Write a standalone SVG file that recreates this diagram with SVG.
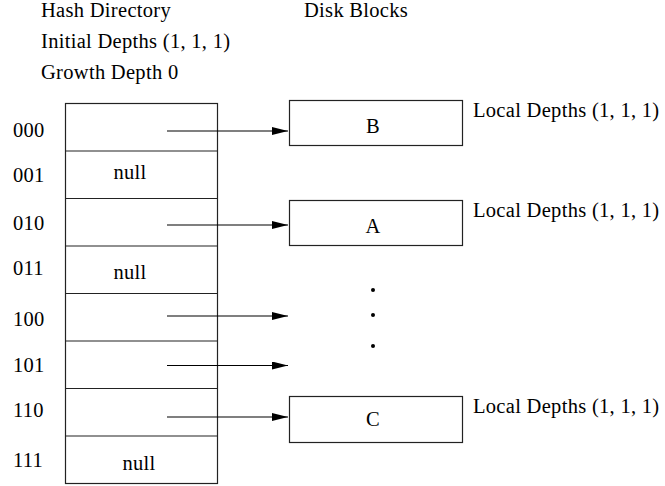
<svg xmlns="http://www.w3.org/2000/svg" width="665" height="486" viewBox="0 0 665 486">
  <style>
    text { font-family: "Liberation Serif", "Times New Roman", serif; font-size: 20.5px; letter-spacing: 0.3px; fill: #000; }
    .mid { text-anchor: middle; }
    .box { fill: #fff; stroke: #222; stroke-width: 1.2; }
    .sep { stroke: #222; stroke-width: 1.2; }
    .link { stroke: #000; stroke-width: 1.2; fill: none; marker-end: url(#head); }
  </style>
  <defs>
    <marker id="head" viewBox="0 0 16 8" refX="16" refY="4" markerWidth="16" markerHeight="8" markerUnits="userSpaceOnUse" orient="auto">
      <path d="M0,0 L16,4 L0,8 Z" fill="#000"/>
    </marker>
  </defs>

  <!-- headings -->
  <g id="headings">
    <text x="41" y="17">Hash Directory</text>
    <text x="41" y="48">Initial Depths (1, 1, 1)</text>
    <text x="41" y="79">Growth Depth 0</text>
    <text x="304" y="17">Disk Blocks</text>
  </g>

  <!-- hash directory: 8 slots -->
  <g id="directory">
    <rect class="box" x="65.5" y="103.5" width="152" height="380"/>
    <line class="sep" x1="65.5" y1="151" x2="217.5" y2="151"/>
    <line class="sep" x1="65.5" y1="198.5" x2="217.5" y2="198.5"/>
    <line class="sep" x1="65.5" y1="246" x2="217.5" y2="246"/>
    <line class="sep" x1="65.5" y1="293.5" x2="217.5" y2="293.5"/>
    <line class="sep" x1="65.5" y1="341" x2="217.5" y2="341"/>
    <line class="sep" x1="65.5" y1="388.5" x2="217.5" y2="388.5"/>
    <line class="sep" x1="65.5" y1="436" x2="217.5" y2="436"/>
    <text class="mid" x="130" y="179">null</text>
    <text class="mid" x="130" y="279">null</text>
    <text class="mid" x="139" y="470">null</text>
  </g>

  <!-- slot indices -->
  <g id="indices">
    <text x="13" y="137">000</text>
    <text x="13" y="182">001</text>
    <text x="13" y="230">010</text>
    <text x="13" y="275">011</text>
    <text x="13" y="326">100</text>
    <text x="13" y="372">101</text>
    <text x="13" y="417">110</text>
    <text x="13" y="467">111</text>
  </g>

  <!-- disk blocks -->
  <g id="block-b">
    <rect class="box" x="289.5" y="100.5" width="173" height="45"/>
    <text class="mid" x="373" y="133">B</text>
    <text x="473" y="117">Local Depths (1, 1, 1)</text>
  </g>
  <g id="block-a">
    <rect class="box" x="289.5" y="200.5" width="173" height="45"/>
    <text class="mid" x="373" y="233">A</text>
    <text x="473" y="217">Local Depths (1, 1, 1)</text>
  </g>
  <g id="block-c">
    <rect class="box" x="289.5" y="396.5" width="173" height="46"/>
    <text class="mid" x="373" y="426">C</text>
    <text x="473" y="413">Local Depths (1, 1, 1)</text>
  </g>

  <!-- ellipsis between blocks -->
  <g id="ellipsis" fill="#000">
    <circle cx="373" cy="290" r="2"/>
    <circle cx="373" cy="315" r="2"/>
    <circle cx="373" cy="346" r="2"/>
  </g>

  <!-- directory pointers -->
  <g id="connectors">
    <line class="link" x1="167" y1="131" x2="288" y2="131"/>
    <line class="link" x1="167" y1="225" x2="288" y2="225"/>
    <line class="link" x1="167" y1="316" x2="288" y2="316"/>
    <line class="link" x1="167" y1="365.5" x2="288" y2="365.5"/>
    <line class="link" x1="167" y1="417" x2="288" y2="417"/>
  </g>
</svg>
